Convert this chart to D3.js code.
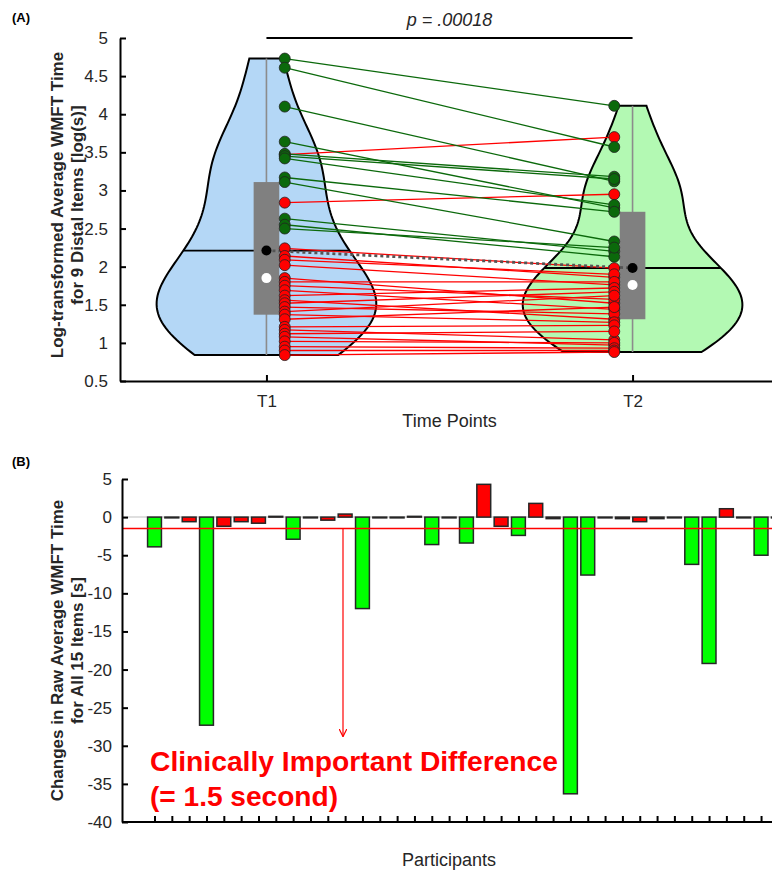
<!DOCTYPE html>
<html>
<head>
<meta charset="utf-8">
<script src="https://cdn.jsdelivr.net/npm/d3@7"></script>
<style>
  body { margin: 0; background: #fff; }
  svg { font-family: "Liberation Sans", Arial, Helvetica, sans-serif; }
</style>
</head>
<body>
<div id="chart"></div>
<script>
// log-transformed WMFT time, participants who improved beyond the MCID (green)
var t1Improved = [4.73, 4.61, 4.10, 3.64, 3.48, 3.45, 3.42, 3.17, 3.11, 2.63, 2.55, 2.50];
var t2Improved = [4.11, 3.57, 3.12, 2.77, 3.18, 3.15, 2.81, 2.72, 2.33, 2.20, 2.13, 2.25];
// the others (red)
var t1Other = [3.47, 2.84, 2.24, 2.14, 2.09, 2.02, 1.85, 1.80, 1.75, 1.69, 1.62, 1.56, 1.52,
               1.47, 1.41, 1.37, 1.31, 1.21, 1.17, 1.12, 1.08, 1.02, 0.95, 0.90, 0.84];
var t2Other = [3.70, 2.95, 1.98, 1.86, 1.90, 1.76, 1.52, 1.80, 1.57, 1.44, 1.72, 1.31, 1.67,
               1.38, 1.62, 1.27, 1.47, 1.23, 1.04, 1.15, 0.97, 1.00, 0.93, 0.90, 0.88];
var timePoints = ["T1", "T2"];
var pValue = "p = .00018";

// raw change per participant [s]
var changes = [-3.9, -0.1, -0.6, -27.3, -1.2, -0.6, -0.8, 0.1, -2.9, -0.1, -0.4, 0.4, -12.0,
               -0.1, -0.1, 0.1, -3.6, -0.1, -3.4, 4.3, -1.2, -2.4, 1.8, -0.2, -36.3, -7.6,
               -0.1, -0.2, -0.6, -0.2, -0.1, -6.2, -19.2, 1.1, -0.1, -5.0, -0.1];
var mcid = -1.5;
var topTicks = [0.5, 1, 1.5, 2, 2.5, 3, 3.5, 4, 4.5, 5];
var bottomTicks = [5, 0, -5, -10, -15, -20, -25, -30, -35, -40];

var W = 772, H = 873;
var svg = d3.select("#chart").append("svg")
    .attr("width", W)
    .attr("height", H);

var red = "#ff0000", dkGreen = "#0b690b", tickColor = "#262626";

// ---------- panel A ----------
var x = d3.scaleLinear().domain([0.6, 2.4]).range([120, 779]);
var y = d3.scaleLinear().domain([0.5, 5]).range([381, 38]);

var groups = [
  { pos: 1, fill: "#b4d7f6", vals: t1Improved.concat(t1Other) },
  { pos: 2, fill: "#b3f9b3", vals: t2Improved.concat(t2Other) }
];

// gaussian kernel density, normal-reference bandwidth (MAD based), kept inside the data range
function bandwidth(vals) {
  var med = d3.median(vals);
  var mad = d3.median(vals, function(v) { return Math.abs(v - med); });
  return mad / 0.6745 * Math.pow(4 / (3 * vals.length), 0.2);
}
function densAt(vals, v, bw) {
  return d3.mean(vals, function(s) { var u = (v - s) / bw; return Math.exp(-0.5 * u * u); });
}
function kde(vals, bw) {
  var lo = d3.min(vals), hi = d3.max(vals);
  return d3.range(0, 101).map(function(i) {
    var v = lo + (hi - lo) * i / 100;
    return { v: v, d: densAt(vals, v, bw) };
  });
}

var gA = svg.append("g");

groups.forEach(function(g) {
  var bw = bandwidth(g.vals);
  var dens = kde(g.vals, bw);
  var w = d3.scaleLinear().domain([0, d3.max(dens, function(d) { return d.d; })]).range([0, 0.3]);
  g.mean = d3.mean(g.vals);
  var sorted = g.vals.slice().sort(d3.ascending);
  g.median = d3.quantileSorted(sorted, 0.5);
  g.q1 = d3.quantileSorted(sorted, 0.25);
  g.q3 = d3.quantileSorted(sorted, 0.75);
  g.min = sorted[0]; g.max = sorted[sorted.length - 1];

  var area = d3.area()
      .y(function(d) { return y(d.v); })
      .x0(function(d) { return x(g.pos - w(d.d)); })
      .x1(function(d) { return x(g.pos + w(d.d)); });

  gA.append("path")
      .datum(dens)
      .attr("d", area)
      .attr("fill", g.fill)
      .attr("stroke", "#000")
      .attr("stroke-width", 2);

  // mean line across the violin
  var mw = w(densAt(g.vals, g.mean, bw));
  gA.append("line")
      .attr("x1", x(g.pos - mw)).attr("x2", x(g.pos + mw))
      .attr("y1", y(g.mean)).attr("y2", y(g.mean))
      .attr("stroke", "#000").attr("stroke-width", 1.8);

  // whisker
  gA.append("line")
      .attr("x1", x(g.pos)).attr("x2", x(g.pos))
      .attr("y1", y(g.min)).attr("y2", y(g.max))
      .attr("stroke", "#8c8c8c").attr("stroke-width", 1.6);

  // box
  gA.append("rect")
      .attr("x", x(g.pos - 0.035)).attr("width", x(g.pos + 0.035) - x(g.pos - 0.035))
      .attr("y", y(g.q3)).attr("height", y(g.q1) - y(g.q3))
      .attr("fill", "#808080");
});

// paired lines
function pairs(a, b, col) {
  gA.append("g").selectAll("line")
    .data(a.map(function(v, i) { return [v, b[i]]; }))
    .enter().append("line")
      .attr("x1", x(1.05)).attr("x2", x(1.95))
      .attr("y1", function(d) { return y(d[0]); })
      .attr("y2", function(d) { return y(d[1]); })
      .attr("stroke", col)
      .attr("stroke-width", 1.3);
}
pairs(t1Other, t2Other, red);
pairs(t1Improved, t2Improved, dkGreen);

// dashed line between means
gA.append("line")
    .attr("x1", x(1)).attr("x2", x(2))
    .attr("y1", y(groups[0].mean)).attr("y2", y(groups[1].mean))
    .attr("stroke", "#555").attr("stroke-width", 2.8)
    .attr("stroke-dasharray", "3,3");

// points
function dots(vals, pos, col) {
  gA.append("g").selectAll("circle")
    .data(vals)
    .enter().append("circle")
      .attr("cx", x(pos))
      .attr("cy", function(d) { return y(d); })
      .attr("r", 5.5)
      .attr("fill", col)
      .attr("stroke", "#222")
      .attr("stroke-width", 0.8);
}
dots(t1Other, 1.05, red);
dots(t1Improved, 1.05, dkGreen);
dots(t2Other, 1.95, red);
dots(t2Improved, 1.95, dkGreen);

groups.forEach(function(g) {
  gA.append("circle").attr("cx", x(g.pos)).attr("cy", y(g.median)).attr("r", 5).attr("fill", "#fff");
  gA.append("circle").attr("cx", x(g.pos)).attr("cy", y(g.mean)).attr("r", 5).attr("fill", "#000");
});

// axes A
var yAxisA = svg.append("g")
    .attr("transform", "translate(120,0)")
    .call(d3.axisLeft(y).tickValues(topTicks).tickSizeInner(-6).tickSizeOuter(0).tickPadding(12)
      .tickFormat(function(d) { return d; }));
var xAxisA = svg.append("g")
    .attr("transform", "translate(0,381)")
    .call(d3.axisBottom(x).tickValues([1, 2]).tickSizeInner(-6).tickSizeOuter(0).tickPadding(14)
      .tickFormat(function(d) { return timePoints[d - 1]; }));

[yAxisA, xAxisA].forEach(function(a) {
  a.select(".domain").attr("stroke", "#000").attr("stroke-width", 2);
  a.selectAll(".tick line").attr("stroke", "#000").attr("stroke-width", 2);
  a.selectAll(".tick text").attr("fill", tickColor).style("font-size", "17px");
});

// significance bar
svg.append("line")
    .attr("x1", x(1)).attr("x2", x(2)).attr("y1", 38).attr("y2", 38)
    .attr("stroke", "#000").attr("stroke-width", 2);
svg.append("text")
    .attr("x", x(1.5)).attr("y", 26)
    .attr("text-anchor", "middle")
    .style("font-size", "18px").style("font-style", "italic")
    .attr("fill", tickColor)
    .text(pValue);

svg.append("text").attr("x", 12).attr("y", 22).style("font-size", "13px").style("font-weight", "bold").text("(A)");
svg.append("text").attr("x", 12).attr("y", 466).style("font-size", "13px").style("font-weight", "bold").text("(B)");

svg.append("text")
    .attr("transform", "translate(63,205) rotate(-90)")
    .attr("text-anchor", "middle")
    .style("font-size", "17px").style("font-weight", "bold")
    .attr("fill", tickColor)
  .selectAll("tspan")
  .data(["Log-transformed Average WMFT Time", "for 9 Distal Items [log(s)]"])
  .enter().append("tspan")
    .attr("x", 0).attr("dy", function(d, i) { return i ? 20 : 0; })
    .text(function(d) { return d; });

svg.append("text")
    .attr("x", x(1.5)).attr("y", 427)
    .attr("text-anchor", "middle")
    .style("font-size", "18px")
    .attr("fill", tickColor)
    .text("Time Points");

// ---------- panel B ----------
var xb = d3.scaleLinear().domain([0, 36]).range([154.5, 154.5 + 36 * 17.33]);
var yb = d3.scaleLinear().domain([-40, 5]).range([822, 479]);
var barW = 0.8 * 17.33;

var gB = svg.append("g");
gB.append("line")
    .attr("x1", 122).attr("x2", W).attr("y1", yb(0)).attr("y2", yb(0))
    .attr("stroke", "#d4d4d4").attr("stroke-width", 1.5);

gB.selectAll("rect")
  .data(changes)
  .enter().append("rect")
    .attr("x", function(d, i) { return xb(i) - barW / 2; })
    .attr("width", barW)
    .attr("y", function(d) { return yb(Math.max(0, d)); })
    .attr("height", function(d) { return Math.abs(yb(d) - yb(0)); })
    .attr("fill", function(d) { return d < mcid ? "#00ff00" : red; })
    .attr("stroke", "#262626")
    .attr("stroke-width", 1.5);

gB.append("line")
    .attr("x1", 122).attr("x2", W).attr("y1", yb(mcid)).attr("y2", yb(mcid))
    .attr("stroke", red).attr("stroke-width", 1.5);

svg.append("defs").append("marker")
    .attr("id", "arrow")
    .attr("viewBox", "0 0 10 10")
    .attr("refX", 10).attr("refY", 5)
    .attr("markerWidth", 8).attr("markerHeight", 8)
    .attr("markerUnits", "userSpaceOnUse")
    .attr("orient", "auto")
  .append("path")
    .attr("d", "M0,0 L10,5 L0,10")
    .attr("fill", "none").attr("stroke", red).attr("stroke-width", 1.5);

gB.append("line")
    .attr("x1", 343).attr("x2", 343)
    .attr("y1", yb(mcid)).attr("y2", yb(-28.8))
    .attr("stroke", red).attr("stroke-width", 1.2)
    .attr("marker-end", "url(#arrow)");

gB.append("text")
    .attr("x", 150).attr("y", 771)
    .attr("fill", red)
    .style("font-size", "28px").style("font-weight", "bold")
    .attr("textLength", 408).attr("lengthAdjust", "spacingAndGlyphs")
    .text("Clinically Important Difference");
gB.append("text")
    .attr("x", 150).attr("y", 806)
    .attr("fill", red)
    .style("font-size", "28px").style("font-weight", "bold")
    .attr("textLength", 188).attr("lengthAdjust", "spacingAndGlyphs")
    .text("(= 1.5 second)");

var yAxisB = svg.append("g")
    .attr("transform", "translate(122,0)")
    .call(d3.axisLeft(yb).tickValues(bottomTicks).tickSizeInner(-6).tickSizeOuter(0).tickPadding(10));
var xAxisB = svg.append("g")
    .attr("transform", "translate(0,822)")
    .call(d3.axisBottom(xb).tickValues(d3.range(changes.length)).tickSizeInner(-6).tickSizeOuter(0)
      .tickFormat(""));
xAxisB.select(".domain").attr("d", "M122,0H" + W);

[yAxisB, xAxisB].forEach(function(a) {
  a.select(".domain").attr("stroke", "#000").attr("stroke-width", 2);
  a.selectAll(".tick line").attr("stroke", "#000").attr("stroke-width", 2);
  a.selectAll(".tick text").attr("fill", tickColor).style("font-size", "17px");
});
yAxisB.selectAll(".tick text").text(function(d) { return d < 0 ? "-" + (-d) : d; });

svg.append("text")
    .attr("transform", "translate(63,650.5) rotate(-90)")
    .attr("text-anchor", "middle")
    .style("font-size", "17px").style("font-weight", "bold")
    .attr("fill", tickColor)
  .selectAll("tspan")
  .data(["Changes in Raw Average WMFT Time", "for All 15 Items [s]"])
  .enter().append("tspan")
    .attr("x", 0).attr("dy", function(d, i) { return i ? 20 : 0; })
    .text(function(d) { return d; });

svg.append("text")
    .attr("x", 449).attr("y", 866)
    .attr("text-anchor", "middle")
    .style("font-size", "18px")
    .attr("fill", tickColor)
    .text("Participants");
</script>
</body>
</html>
